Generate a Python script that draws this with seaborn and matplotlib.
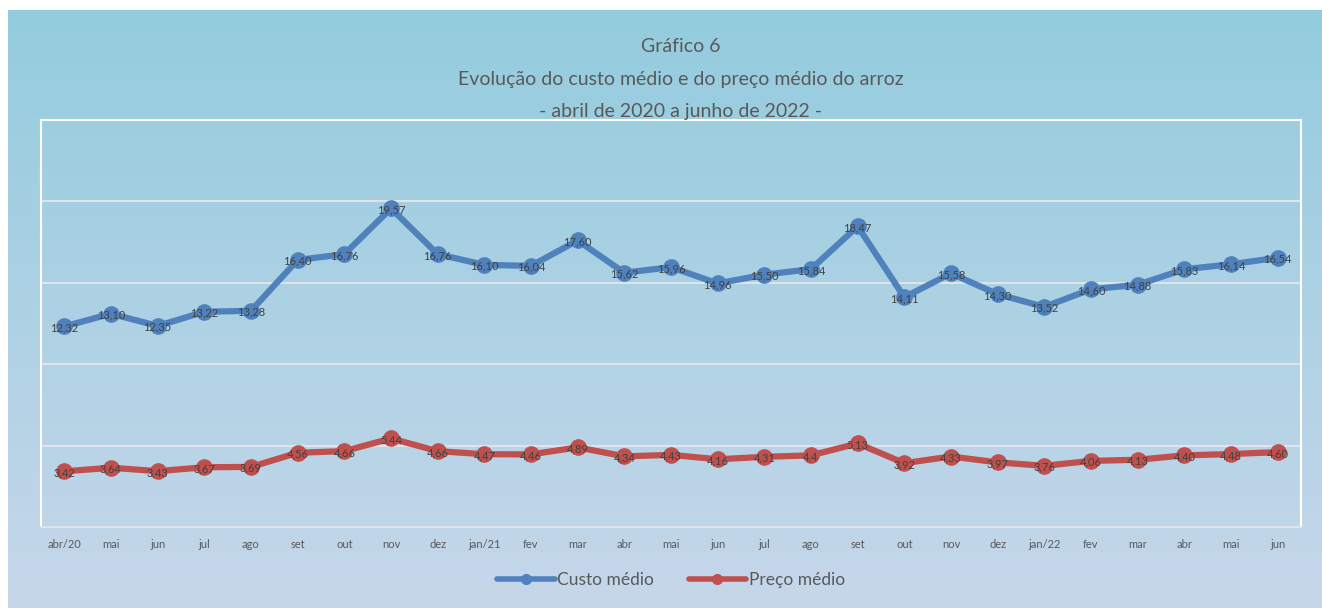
import numpy as np
import pandas as pd
import matplotlib
matplotlib.use("Agg")
import matplotlib.pyplot as plt
from matplotlib.lines import Line2D
import seaborn as sns

meses = ["abr/20", "mai", "jun", "jul", "ago", "set", "out", "nov", "dez",
         "jan/21", "fev", "mar", "abr", "mai", "jun", "jul", "ago", "set",
         "out", "nov", "dez", "jan/22", "fev", "mar", "abr", "mai", "jun"]
custo_medio = [12.32, 13.10, 12.35, 13.22, 13.28, 16.40, 16.76, 19.57, 16.76,
               16.10, 16.04, 17.60, 15.62, 15.96, 14.96, 15.50, 15.84, 18.47,
               14.11, 15.58, 14.30, 13.52, 14.60, 14.88, 15.83, 16.14, 16.54]
preco_medio = [3.42, 3.64, 3.43, 3.67, 3.69, 4.56, 4.66, 5.44, 4.66,
               4.47, 4.46, 4.89, 4.34, 4.43, 4.16, 4.31, 4.4, 5.13,
               3.92, 4.33, 3.97, 3.76, 4.06, 4.13, 4.40, 4.48, 4.60]
preco_rotulos = [None] * len(preco_medio)
preco_rotulos[16] = "4,4"

AZUL = "#4F81BD"
VERMELHO = "#C0504D"

sns.set_style("white")
plt.rcParams["font.family"] = ["Lato", "DejaVu Sans"]

W, H = 1322, 608
fig = plt.figure(figsize=(W / 100, H / 100), dpi=100)
fig.patch.set_facecolor("white")

# background panel with vertical gradient
bg = fig.add_axes([8 / W, 0, (W - 8) / W, (H - 10) / H])
top = np.array([0x93, 0xCC, 0xDE]) / 255
bot = np.array([0xC7, 0xD7, 0xEA]) / 255
t = np.linspace(0, 1, 256)[:, None]
grad = top[None, :] * (1 - t) + bot[None, :] * t
bg.imshow(grad[:, None, :], aspect="auto", extent=[0, 1, 0, 1])
bg.set_axis_off()

ax = fig.add_axes([41 / W, (H - 527) / H, 1260 / W, 407 / H])
ax.patch.set_alpha(0)

df = pd.DataFrame({"x": range(len(meses)), "custo": custo_medio, "preco": preco_medio})
sns.lineplot(data=df, x="x", y="custo", ax=ax, color=AZUL, lw=4.5,
             marker="o", markersize=12, markeredgewidth=0, legend=False)
sns.lineplot(data=df, x="x", y="preco", ax=ax, color=VERMELHO, lw=4.5,
             marker="o", markersize=12, markeredgewidth=0, legend=False)

for i, v in enumerate(custo_medio):
    ax.annotate(f"{v:.2f}".replace(".", ","), (i, v), xytext=(0, -1),
                textcoords="offset points", ha="center", va="center",
                fontsize=8, color="#404040")
for i, v in enumerate(preco_medio):
    lab = preco_rotulos[i] or f"{v:.2f}".replace(".", ",")
    ax.annotate(lab, (i, v), xytext=(0, -1),
                textcoords="offset points", ha="center", va="center",
                fontsize=8, color="#404040")

ax.set_xlim(-0.5, len(meses) - 0.5)
ax.set_ylim(0, 25)
ax.set_yticks([0, 5, 10, 15, 20, 25])
ax.set_yticklabels([])
ax.tick_params(axis="y", length=0)
ax.grid(axis="y", color="#E0E4EA", lw=1.5)
ax.set_axisbelow(True)
ax.set_xticks(range(len(meses)))
ax.set_xticklabels(meses, fontsize=8, color="#595959")
ax.tick_params(axis="x", length=0, pad=9)
ax.set_xlabel("")
ax.set_ylabel("")
for side in ["top", "left", "right"]:
    ax.spines[side].set_color("white")
    ax.spines[side].set_linewidth(1.5)
ax.spines["bottom"].set_color("#E0E4EA")
ax.spines["bottom"].set_linewidth(1.5)

handles = [Line2D([], [], color=AZUL, lw=4, marker="o", markersize=7),
           Line2D([], [], color=VERMELHO, lw=4, marker="o", markersize=7)]
leg = ax.legend(handles, ["Custo médio", "Preço médio"], loc="center",
                bbox_to_anchor=(0.5, -0.13), ncol=2, frameon=False, fontsize=12.5,
                handlelength=3.3, columnspacing=2.0, handletextpad=0.15)
for txt in leg.get_texts():
    txt.set_color("#595959")

fig.text(0.515, 1 - 46 / H, "Gráfico 6", ha="center", va="center",
         fontsize=14, color="#595959")
fig.text(0.515, 1 - 79 / H, "Evolução do custo médio e do preço médio do arroz",
         ha="center", va="center", fontsize=14, color="#595959")
fig.text(0.515, 1 - 112 / H, "- abril de 2020 a junho de 2022 -", ha="center",
         va="center", fontsize=14, color="#595959")

fig.savefig("out.png", dpi=100)
